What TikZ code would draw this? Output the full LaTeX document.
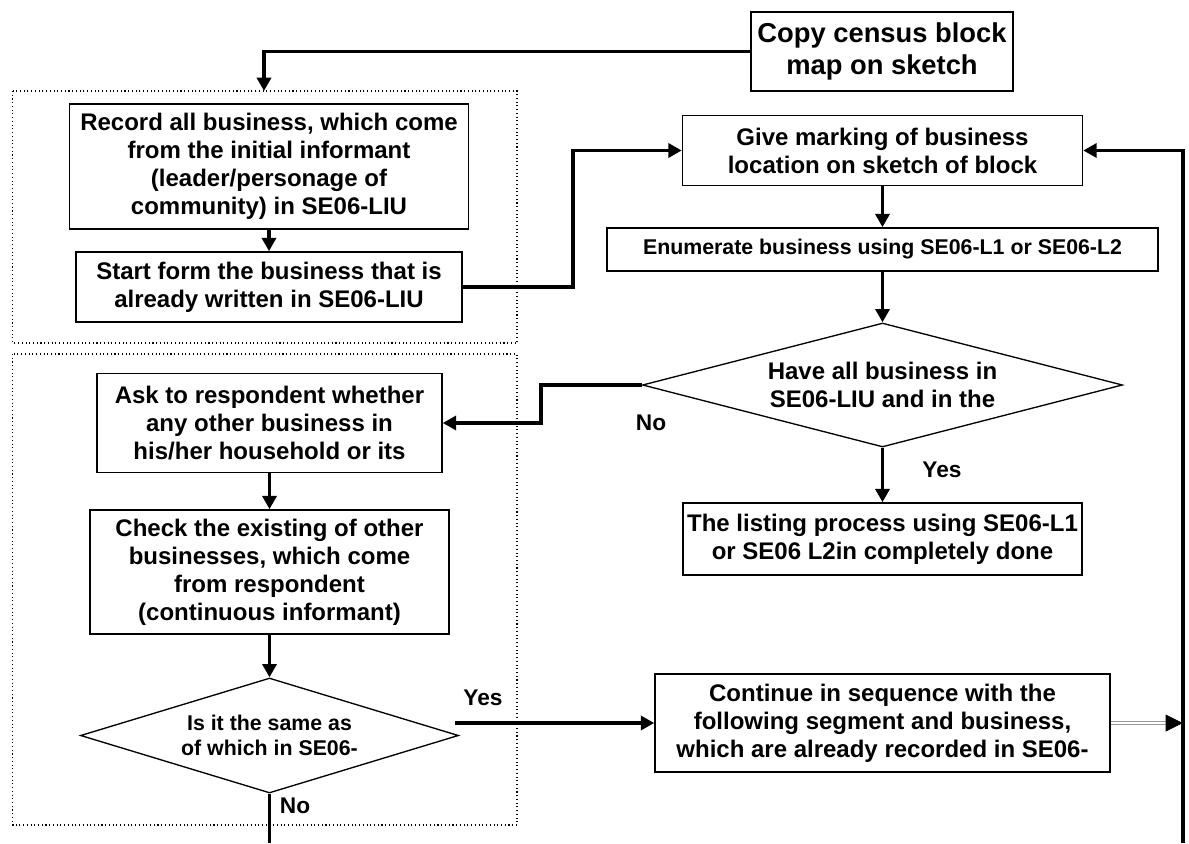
\documentclass[tikz,border=0pt]{standalone}
\usepackage{fontspec}
\setmainfont{Liberation Sans}
\usetikzlibrary{arrows.meta,shapes.geometric}
\begin{document}
\begin{tikzpicture}[x=0.75pt,y=-0.75pt,
  conn/.style={line width=2.6pt,-{Triangle[length=10pt,width=10.5pt]}},
  plain/.style={line width=2.6pt},
  pbox/.style 2 args={draw,line width=1.2pt,align=center,inner sep=0pt,
    minimum width=#1*0.75pt,minimum height=#2*0.75pt,
    font=\bfseries\fontsize{18}{21}\selectfont},
  dia/.style 2 args={draw,shape=diamond,line width=1pt,align=center,inner sep=0pt,
    minimum width=#1*0.75pt,minimum height=#2*0.75pt},
  lab/.style={font=\bfseries\fontsize{17}{20}\selectfont,inner sep=0pt},
  group/.style={draw,dotted,line width=0.8pt},
  dbl/.style={draw=gray!80,line width=0.6pt,double=white,double distance=1.3pt},
  tiphead/.style={draw=black,fill=black,line width=0.5pt,line join=miter}
]
\useasboundingbox (0,0) rectangle (1189,843);

% group frames
\draw[group] (12.5,91) rectangle (517,343);
\draw[group] (12.5,354) rectangle (517,825);

% nodes
\node[pbox={262}{79},font=\bfseries\fontsize{20.5}{24}\selectfont] (copy) at (882,51.5) {Copy census block\\map on sketch};
\node[pbox={399}{125}] (record) at (269,166.5) {Record all business, which come\\from the initial informant\\(leader/personage of\\community) in SE06-LIU};
\node[pbox={386}{70}] (start) at (269,287) {Start form the business that is\\already written in SE06-LIU};
\node[pbox={400}{70}] (give) at (882.5,150.5) {Give marking of business\\location on sketch of block};
\node[pbox={551}{43},font=\bfseries\fontsize{16}{19}\selectfont] (enum) at (882.5,249.5) {Enumerate business using SE06-L1 or SE06-L2};
\node[dia={480}{124},aspect=3.87,font=\bfseries\fontsize{18}{21}\selectfont] (d1) at (882.5,385) {Have all business in\\SE06-LIU and in the};
\node[pbox={399}{72}] (listing) at (882.5,539) {The listing process using SE06-L1\\or SE06 L2in completely done};
\node[pbox={345}{99}] (ask) at (269.5,423) {Ask to respondent whether\\any other business in\\his/her household or its};
\node[pbox={359}{124}] (check) at (269.5,572) {Check the existing of other\\businesses, which come\\from respondent\\(continuous informant)};
\node[dia={378}{115},aspect=3.29,font=\bfseries\fontsize{16}{18.75}\selectfont] (d2) at (269.5,735.5) {Is it the same as\\of which in SE06-};
\node[pbox={455}{98}] (cont) at (882.5,723) {Continue in sequence with the\\following segment and business,\\which are already recorded in SE06-};

% labels
\node[lab] (no1) at (651,423) {No};
\node[lab] (yes1) at (942,470) {Yes};
\node[lab] (yes2) at (483,698) {Yes};
\node[lab] (no2) at (295,806) {No};

% helper coordinates
\coordinate (dot1top) at (264,91);
\coordinate (yesS) at (455,723);
\coordinate (bot1) at (269.5,843);
\coordinate (bot2) at (1183,843);
\coordinate (rv) at (1182,723);
\coordinate (rvb) at (1166,723);

% connectors
\draw[conn] (copy.west) -| (dot1top);
\draw[conn] (record.south) -- (start.north);
\draw[conn] (start.east) -- ++(110,0) |- (give.west);
\draw[conn] (give.south) -- (enum.north);
\draw[conn] (enum.south) -- (d1.north);
\draw[conn] (d1.west) -- ++(-101,0) |- (ask.east);
\draw[conn] (d1.south) -- (listing.north);
\draw[conn] (ask.south) -- (check.north);
\draw[conn] (check.south) -- (d2.north);
\draw[conn] (yesS) -- (cont.west);
\draw[plain] (d2.south) -- (bot1);
\draw[conn] (bot2) |- (give.east);
\draw[dbl] (cont.east) -- (rvb);
\filldraw[tiphead] (rv) -- (1166,715) -- (1166,731) -- cycle;
\end{tikzpicture}
\end{document}
